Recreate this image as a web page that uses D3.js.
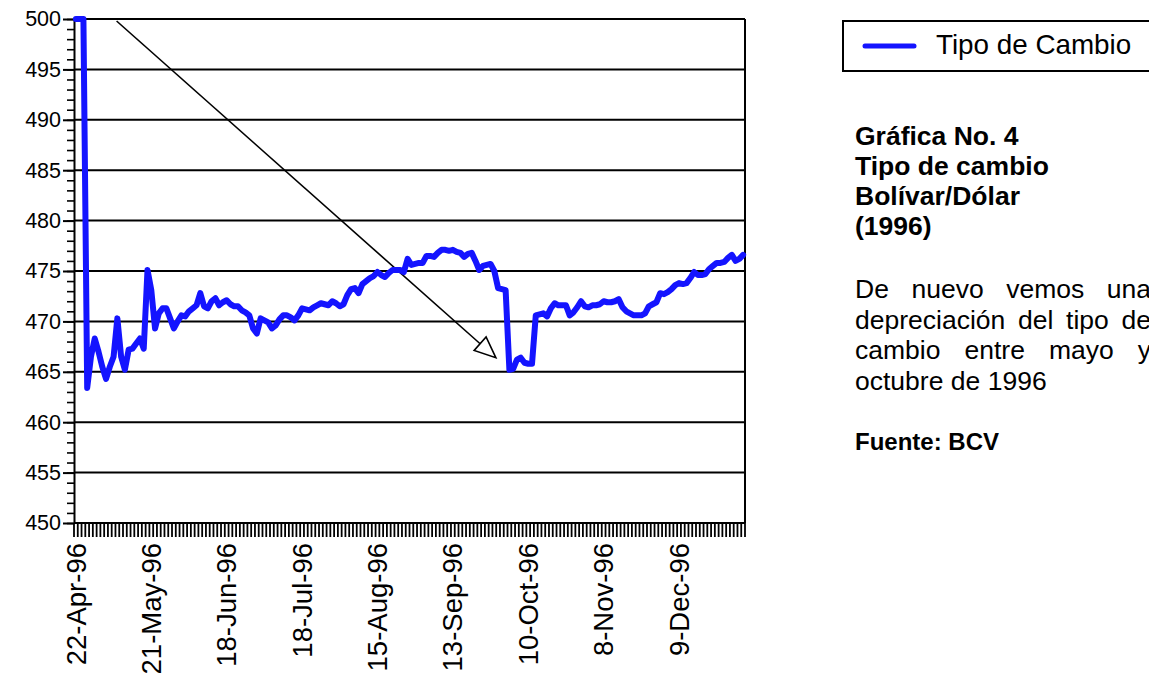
<!DOCTYPE html>
<html>
<head>
<meta charset="utf-8">
<script src="https://cdn.jsdelivr.net/npm/d3@7"></script>
<style>
  body { margin: 0; background: #fff; overflow: hidden; }
  svg { display: block; font-family: "Liberation Sans", Arial, sans-serif; }
</style>
</head>
<body>
<svg width="1149" height="673"></svg>
<script>
// tipo de cambio Bs/US$, one value per trading day from 22-Apr-96
const rate = [
  500, 500, 500, 463.4, 466.5, 468.3, 467.0, 465.5, 464.3, 465.5,
  466.5, 470.3, 466.5, 465.2, 467.2, 467.3, 467.8, 468.3, 467.3, 475.1,
  473.1, 469.3, 470.8, 471.3, 471.3, 470.3, 469.3, 470.0, 470.6, 470.5,
  471.0, 471.3, 471.6, 472.8, 471.5, 471.3, 472.0, 472.3, 471.6, 471.9,
  472.1, 471.7, 471.5, 471.5, 471.1, 470.9, 470.6, 469.3, 468.8, 470.3,
  470.1, 469.9, 469.3, 469.6, 470.2, 470.6, 470.6, 470.4, 470.1, 470.6,
  471.3, 471.2, 471.1, 471.4, 471.6, 471.8, 471.7, 471.6, 472.0, 471.8,
  471.5, 471.7, 472.6, 473.2, 473.3, 472.8, 473.7, 474.0, 474.3, 474.5,
  474.9, 474.6, 474.4, 474.8, 475.1, 475.1, 475.1, 474.9, 476.2, 475.6,
  475.7, 475.8, 475.8, 476.5, 476.5, 476.4, 476.8, 477.1, 477.1, 477.0,
  477.1, 476.9, 476.8, 476.4, 476.7, 476.8, 476.0, 475.1, 475.5, 475.6,
  475.7, 475.0, 473.3, 473.2, 473.1, 465.2, 465.3, 466.2, 466.4, 465.9,
  465.8, 465.8, 470.6, 470.7, 470.8, 470.5, 471.3, 471.8, 471.6, 471.6,
  471.6, 470.6, 470.9, 471.4, 472.0, 471.5, 471.4, 471.6, 471.6, 471.7,
  472.0, 471.9, 471.9, 472.0, 472.2, 471.4, 471.0, 470.8, 470.6, 470.6,
  470.6, 470.8, 471.5, 471.7, 471.9, 472.8, 472.7, 472.9, 473.2, 473.6,
  473.8, 473.7, 473.8, 474.3, 474.9, 474.6, 474.6, 474.7, 475.2, 475.5,
  475.8, 475.8, 475.9, 476.3, 476.6, 476.0, 476.2, 476.6
]

// a date label on every 20th trading day
const tickLabels = ['22-Apr-96', '21-May-96', '18-Jun-96', '18-Jul-96', '15-Aug-96',
  '13-Sep-96', '10-Oct-96', '8-Nov-96', '9-Dec-96']
const labelEvery = 20

const yTicks = d3.range(450, 501, 5)
const yMinor = d3.range(450, 501, 1)

const seriesName = 'Tipo de Cambio'
const titleLines = ['Gráfica No. 4', 'Tipo de cambio', 'Bolívar/Dólar', '(1996)']
const noteLines = ['De nuevo vemos una', 'depreciación del tipo de', 'cambio entre mayo y', 'octubre de 1996']
const source = 'Fuente: BCV'

// arrow drawn in data units: [day index, value]
const arrowFrom = [10.8, 499.8]
const arrowTo = [111.4, 466.4]

const blue = '#1414ff'
const plot = { left: 74, right: 745, top: 19, bottom: 523 }
const svg = d3.select('svg')

const x = d3.scaleLinear().domain([0, rate.length]).range([plot.left, plot.right])
const y = d3.scaleLinear().domain([450, 500]).range([plot.bottom, plot.top])
const xc = i => x(i + 0.5)

// gridlines
svg.append('g')
  .selectAll('line')
  .data(yTicks.filter(v => v > 450))
  .join('line')
  .attr('x1', plot.left).attr('x2', plot.right)
  .attr('y1', d => y(d)).attr('y2', d => y(d))
  .attr('stroke', '#000').attr('stroke-width', 2)

// right border
svg.append('line')
  .attr('x1', plot.right).attr('x2', plot.right)
  .attr('y1', plot.top).attr('y2', plot.bottom)
  .attr('stroke', '#000').attr('stroke-width', 2)

// y axis: minor then major ticks
svg.append('g')
  .attr('transform', `translate(${plot.left},0)`)
  .call(d3.axisLeft(y).tickValues(yMinor).tickSize(7).tickFormat(''))
  .call(g => g.select('.domain').remove())
  .call(g => g.selectAll('line').attr('stroke', '#000').attr('stroke-width', 1.6))

const yAxis = svg.append('g')
  .attr('transform', `translate(${plot.left},0)`)
  .call(d3.axisLeft(y).tickValues(yTicks).tickSize(11).tickSizeOuter(0).tickPadding(2))
yAxis.select('.domain').attr('stroke', '#000').attr('stroke-width', 2)
yAxis.selectAll('line').attr('stroke', '#000').attr('stroke-width', 2)
yAxis.selectAll('text')
  .attr('fill', '#000')
  .style('font-size', '21.5px')
  .style('font-family', '"Liberation Sans", Arial, sans-serif')

// x axis line
svg.append('line')
  .attr('x1', plot.left).attr('x2', plot.right)
  .attr('y1', plot.bottom).attr('y2', plot.bottom)
  .attr('stroke', '#000').attr('stroke-width', 2)

// x ticks between categories
svg.append('g')
  .selectAll('line')
  .data(d3.range(rate.length + 1))
  .join('line')
  .attr('x1', d => x(d)).attr('x2', d => x(d))
  .attr('y1', plot.bottom).attr('y2', plot.bottom + 14)
  .attr('stroke', '#000').attr('stroke-width', 1.8)

svg.append('g')
  .selectAll('text')
  .data(tickLabels)
  .join('text')
  .attr('transform', (d, i) => `translate(${xc(i * labelEvery)},${plot.bottom + 20}) rotate(-90)`)
  .attr('text-anchor', 'end')
  .attr('dy', '0.35em')
  .style('font-size', '27.5px')
  .text(d => d)

// arrow annotation
const p0 = [xc(arrowFrom[0]), y(arrowFrom[1])]
const p1 = [xc(arrowTo[0]), y(arrowTo[1])]
const ang = Math.atan2(p1[1] - p0[1], p1[0] - p0[0])
const headLen = 21, headHalf = 9
const base = [p1[0] - headLen * Math.cos(ang), p1[1] - headLen * Math.sin(ang)]
svg.append('line')
  .attr('x1', p0[0]).attr('y1', p0[1])
  .attr('x2', base[0]).attr('y2', base[1])
  .attr('stroke', '#000').attr('stroke-width', 1.6)
svg.append('polygon')
  .attr('points', [
    p1,
    [base[0] + headHalf * Math.sin(ang), base[1] - headHalf * Math.cos(ang)],
    [base[0] - headHalf * Math.sin(ang), base[1] + headHalf * Math.cos(ang)]
  ].map(p => p.join(',')).join(' '))
  .attr('fill', '#fff').attr('stroke', '#000').attr('stroke-width', 1.6)

// series
svg.append('path')
  .datum(rate)
  .attr('d', d3.line().x((d, i) => xc(i)).y(d => y(d)))
  .attr('fill', 'none')
  .attr('stroke', blue)
  .attr('stroke-width', 6)
  .attr('stroke-linejoin', 'round')
  .attr('stroke-linecap', 'round')

// legend
svg.append('rect')
  .attr('x', 843).attr('y', 21).attr('width', 340).attr('height', 50)
  .attr('fill', 'none').attr('stroke', '#000').attr('stroke-width', 2)
svg.append('line')
  .attr('x1', 865).attr('x2', 914).attr('y1', 46).attr('y2', 46)
  .attr('stroke', blue).attr('stroke-width', 5).attr('stroke-linecap', 'round')
svg.append('text')
  .attr('x', 936).attr('y', 54)
  .style('font-size', '27.8px')
  .text(seriesName)

// side text
const textX = 855
svg.append('g')
  .selectAll('text')
  .data(titleLines)
  .join('text')
  .attr('x', textX)
  .attr('y', (d, i) => 145 + i * 30)
  .style('font-size', '26.5px')
  .style('font-weight', 'bold')
  .text(d => d)

// justified paragraph
const rightEdge = 1151
noteLines.forEach((line, li) => {
  const words = line.split(' ')
  const g = svg.append('g')
  const nodes = words.map(w => g.append('text')
    .attr('y', 298 + li * 30.5)
    .style('font-size', '26.5px')
    .text(w))
  const widths = nodes.map(n => n.node().getComputedTextLength())
  const last = li === noteLines.length - 1
  const gap = last
    ? 7.4
    : (rightEdge - textX - d3.sum(widths)) / (words.length - 1)
  let cx = textX
  nodes.forEach((n, i) => {
    n.attr('x', cx)
    cx += widths[i] + gap
  })
})

svg.append('text')
  .attr('x', textX).attr('y', 450)
  .style('font-size', '24px')
  .style('font-weight', 'bold')
  .text(source)
</script>
</body>
</html>
